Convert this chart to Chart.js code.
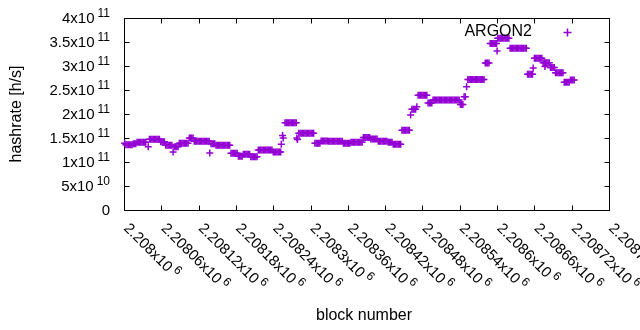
<!DOCTYPE html>
<html><head><meta charset="utf-8">
<script src="https://cdn.jsdelivr.net/npm/chart.js@4.4.1/dist/chart.umd.min.js"></script>
<style>html,body{margin:0;padding:0;background:#fff}canvas{display:block}</style>
</head><body>
<canvas id="c" width="640" height="330"></canvas>
<script>
const BLOCK_BASE = 2208000;
const blockOffsets = [
  1,
  3,5,7,9,11,13, 15,17,19,
  21,23,25,27,29,31,33,35,
  39,
  41,43,45,47,49,51,53,55,57,
  59,61,63,65,
  67,69,71,73,75,77,
  79,
  81,83,85,87,
  89,91,93,95,97,99,101,103,
  105,107,109,111,
  113,115,117,119,121,123,125,127,129,131,133,135,137,
  138,
  140,142,144,146,
  148,150,152,154,156,158,160,162,164,166,168,170,
  172,174,176,178,180,182,
  184,186,188,190,
  192,194,196,198,200,202,
  204,206,208,210,212,214,
  216,218,220,222,224,226,228,230,232,234,236,238,
  240,242,244,246,248,250,252,
  253,255,256,
  259,261,263,265,267,269,271,273,275,277,
  278,279,
  281,283,285,287,289,291,293,295,297,299,301,303,305,
  307,309,311,313,315,
  317,319,321,323,325,327,
  329,331,333,335,337,339,341,343,345,347,349,351,
  353,355,357,359,361,363,
  365,367,369,371,373,375,377,379,381,383,
  385,387,389,391,393,395,
  397,399,401,403,405,407,
  409,411,413,415,417,419,421,423,
  425,427,429,431,
  433,435,437,439,441,443,445,
  447,449,451,453,455,457,459,
  461,
  463,465,467,469,
  471,
  473,475,477,479,481,483,485,487,
  489,491,493,495,
  497,499,501,503,505,507,509,511,513,515,517,519,521,523,525,527,529,531,533,535,537,539,
  541,543,545,
  547,549,
  551,
  553,555,557,559,561,563,565,567,569,571,573,575,577,579,
  581,583,585,587,
  589,591,593,595,597,599,
  600,
  601,603,605,607,609,611,613,615,617,619,
  621,623,625,627,629,631,633,635,637,639,641,643,645,647,
  649,651,653,655,657,
  658,
  660,662,664,666,668,670,672,
  674,676,678,680,682,684,
  677,
  686,688,690,692,
  694,696,698,700,702,704,706,
  708,710,712,714,716,
  718,720,722,724
];
const hashrate = [
  1.39e11,
  1.36e11,1.36e11,1.36e11,1.36e11,1.36e11,1.36e11, 1.38e11,1.38e11,1.38e11,
  1.41e11,1.41e11,1.41e11,1.41e11,1.41e11,1.41e11,1.41e11,1.41e11,
  1.32e11,
  1.475e11,1.475e11,1.475e11,1.475e11,1.475e11,1.475e11,1.475e11,1.475e11,1.475e11,
  1.42e11,1.42e11,1.42e11,1.42e11,
  1.35e11,1.35e11,1.35e11,1.35e11,1.35e11,1.35e11,
  1.21e11,
  1.32e11,1.32e11,1.32e11,1.32e11,
  1.39e11,1.39e11,1.39e11,1.39e11,1.39e11,1.39e11,1.39e11,1.39e11,
  1.50e11,1.50e11,1.50e11,1.50e11,
  1.43e11,1.43e11,1.43e11,1.43e11,1.43e11,1.43e11,1.43e11,1.43e11,1.43e11,1.43e11,1.43e11,1.43e11,1.43e11,
  1.19e11,
  1.38e11,1.38e11,1.38e11,1.38e11,
  1.35e11,1.35e11,1.35e11,1.35e11,1.35e11,1.35e11,1.35e11,1.35e11,1.35e11,1.35e11,1.35e11,1.35e11,
  1.18e11,1.18e11,1.18e11,1.18e11,1.18e11,1.18e11,
  1.12e11,1.12e11,1.12e11,1.12e11,
  1.16e11,1.16e11,1.16e11,1.16e11,1.16e11,1.16e11,
  1.11e11,1.11e11,1.11e11,1.11e11,1.11e11,1.11e11,
  1.25e11,1.25e11,1.25e11,1.25e11,1.25e11,1.25e11,1.25e11,1.25e11,1.25e11,1.25e11,1.25e11,1.25e11,
  1.21e11,1.21e11,1.21e11,1.21e11,1.21e11,1.21e11,1.21e11,
  1.37e11,1.55e11,1.50e11,
  1.82e11,1.82e11,1.82e11,1.82e11,1.82e11,1.82e11,1.82e11,1.82e11,1.82e11,1.82e11,
  1.50e11,1.47e11,
  1.60e11,1.60e11,1.60e11,1.60e11,1.60e11,1.60e11,1.60e11,1.60e11,1.60e11,1.60e11,1.60e11,1.60e11,1.60e11,
  1.39e11,1.39e11,1.39e11,1.39e11,1.39e11,
  1.44e11,1.44e11,1.44e11,1.44e11,1.44e11,1.44e11,
  1.43e11,1.43e11,1.43e11,1.43e11,1.43e11,1.43e11,1.43e11,1.43e11,1.43e11,1.43e11,1.43e11,1.43e11,
  1.39e11,1.39e11,1.39e11,1.39e11,1.39e11,1.39e11,
  1.41e11,1.41e11,1.41e11,1.41e11,1.41e11,1.41e11,1.41e11,1.41e11,1.41e11,1.41e11,
  1.51e11,1.51e11,1.51e11,1.51e11,1.51e11,1.51e11,
  1.48e11,1.48e11,1.48e11,1.48e11,1.48e11,1.48e11,
  1.43e11,1.43e11,1.43e11,1.43e11,1.43e11,1.43e11,1.43e11,1.43e11,
  1.41e11,1.41e11,1.41e11,1.41e11,
  1.37e11,1.37e11,1.37e11,1.37e11,1.37e11,1.37e11,1.37e11,
  1.66e11,1.66e11,1.66e11,1.66e11,1.66e11,1.66e11,1.66e11,
  1.98e11,
  2.10e11,2.10e11,2.10e11,2.10e11,
  2.15e11,
  2.39e11,2.39e11,2.39e11,2.39e11,2.39e11,2.39e11,2.39e11,2.39e11,
  2.23e11,2.23e11,2.23e11,2.23e11,
  2.29e11,2.29e11,2.29e11,2.29e11,2.29e11,2.29e11,2.29e11,2.29e11,2.29e11,2.29e11,2.29e11,2.29e11,2.29e11,2.29e11,2.29e11,2.29e11,2.29e11,2.29e11,2.29e11,2.29e11,2.29e11,2.29e11,
  2.20e11,2.20e11,2.20e11,
  2.36e11,2.36e11,
  2.57e11,
  2.72e11,2.72e11,2.72e11,2.72e11,2.72e11,2.72e11,2.72e11,2.72e11,2.72e11,2.72e11,2.72e11,2.72e11,2.72e11,2.72e11,
  3.06e11,3.06e11,3.06e11,3.06e11,
  3.47e11,3.47e11,3.47e11,3.47e11,3.47e11,3.47e11,
  3.31e11,
  3.58e11,3.58e11,3.58e11,3.58e11,3.58e11,3.58e11,3.58e11,3.58e11,3.58e11,3.58e11,
  3.37e11,3.37e11,3.37e11,3.37e11,3.37e11,3.37e11,3.37e11,3.37e11,3.37e11,3.37e11,3.37e11,3.37e11,3.37e11,3.37e11,
  2.83e11,2.83e11,2.83e11,2.83e11,2.83e11,
  2.96e11,
  3.16e11,3.16e11,3.16e11,3.16e11,3.16e11,3.16e11,3.16e11,
  3.07e11,3.07e11,3.07e11,3.07e11,3.07e11,3.07e11,
  2.99e11,
  2.97e11,2.97e11,2.97e11,2.97e11,
  2.86e11,2.86e11,2.86e11,2.86e11,2.86e11,2.86e11,2.86e11,
  2.66e11,2.66e11,2.66e11,2.66e11,2.66e11,
  2.71e11,2.71e11,2.71e11,2.71e11
];
const xTickValues = [2208000,2208060,2208120,2208180,2208240,2208300,2208360,2208420,2208480,2208540,2208600,2208660,2208720,2208780];
const xTickMantissa = ['2.208x10','2.20806x10','2.20812x10','2.20818x10','2.20824x10','2.2083x10','2.20836x10','2.20842x10','2.20848x10','2.20854x10','2.2086x10','2.20866x10','2.20872x10','2.20878x10'];
const xTickExponent = ['6','6','6','6','6','6','6','6','6','6','6','6','6','6'];
const yTickValues = [0,5e10,1e11,1.5e11,2e11,2.5e11,3e11,3.5e11,4e11];
const yTickMantissa = ['0','5x10','1x10','1.5x10','2x10','2.5x10','3x10','3.5x10','4x10'];
const yTickExponent = ['','10','11','11','11','11','11','11','11'];
const seriesLabel = 'ARGON2';
const xTitle = 'block number';
const yTitle = 'hashrate [h/s]';

const FONT = '"Liberation Sans", Arial, sans-serif';
const COLOR = '#9400d3';
const TICK_FONT = 15, EXP_FONT = 12, TITLE_FONT = 16;

const points = blockOffsets.map((o, i) => ({x: BLOCK_BASE + o, y: hashrate[i]}));

const gnuplotDecor = {
  id: 'gnuplotDecor',
  beforeDatasetsDraw(chart) {
    const {ctx, chartArea: a, scales: {x, y}} = chart;
    ctx.save();
    ctx.strokeStyle = '#000';
    ctx.lineWidth = 1;
    ctx.beginPath();
    const L = Math.round(a.left) + 0.5, R = Math.round(a.right) + 0.5;
    const T = Math.round(a.top) + 0.5, B = Math.round(a.bottom) + 0.5;
    ctx.rect(L, T, R - L, B - T);
    const TL = 5;
    yTickValues.forEach(v => {
      const py = Math.round(y.getPixelForValue(v)) + 0.5;
      ctx.moveTo(L, py); ctx.lineTo(L + TL, py);
      ctx.moveTo(R, py); ctx.lineTo(R - TL, py);
    });
    xTickValues.forEach(v => {
      const px = Math.round(x.getPixelForValue(v)) + 0.5;
      ctx.moveTo(px, B); ctx.lineTo(px, B - TL);
      ctx.moveTo(px, T); ctx.lineTo(px, T + TL);
    });
    ctx.stroke();
    ctx.restore();
  },
  afterDraw(chart) {
    const {ctx, chartArea: a, scales: {x, y}} = chart;
    ctx.save();
    ctx.fillStyle = '#000';
    // y tick labels
    yTickValues.forEach((v, i) => {
      const py = y.getPixelForValue(v);
      const right = 110;
      ctx.textAlign = 'right';
      ctx.textBaseline = 'middle';
      let ew = 0;
      if (yTickExponent[i]) {
        ctx.font = EXP_FONT + 'px ' + FONT;
        ew = ctx.measureText(yTickExponent[i]).width + 3;
        ctx.fillText(yTickExponent[i], right, py - 4);
      }
      ctx.font = TICK_FONT + 'px ' + FONT;
      ctx.fillText(yTickMantissa[i], right - ew, py + 1);
    });
    // x tick labels
    xTickValues.forEach((v, i) => {
      const px = x.getPixelForValue(v);
      ctx.save();
      ctx.translate(px + 2, 226);
      ctx.rotate(Math.PI / 4);
      ctx.textAlign = 'left';
      ctx.textBaseline = 'middle';
      ctx.font = TICK_FONT + 'px ' + FONT;
      ctx.fillText(xTickMantissa[i], 0, 0);
      const w = ctx.measureText(xTickMantissa[i]).width;
      ctx.font = EXP_FONT + 'px ' + FONT;
      ctx.fillText(xTickExponent[i], w + 3, -5);
      ctx.restore();
    });
    // titles
    ctx.font = TITLE_FONT + 'px ' + FONT;
    ctx.textAlign = 'center';
    ctx.textBaseline = 'middle';
    ctx.fillText(xTitle, 364, 316);
    ctx.save();
    ctx.translate(17, 114);
    ctx.rotate(-Math.PI / 2);
    ctx.fillText(yTitle, 0, 0);
    ctx.restore();
    // legend
    ctx.textAlign = 'right';
    ctx.fillText(seriesLabel, 532, 32);
    ctx.strokeStyle = COLOR;
    ctx.lineWidth = 1.5;
    ctx.beginPath();
    ctx.moveTo(563.5, 32.5); ctx.lineTo(571.5, 32.5);
    ctx.moveTo(567.5, 28.5); ctx.lineTo(567.5, 36.5);
    ctx.stroke();
    ctx.restore();
  }
};

new Chart(document.getElementById('c'), {
  type: 'scatter',
  data: {
    datasets: [{
      label: seriesLabel,
      data: points,
      showLine: false,
      pointStyle: 'cross',
      pointRadius: 3.5,
      pointHoverRadius: 3.5,
      borderColor: COLOR,
      backgroundColor: COLOR,
      borderWidth: 1.5,
      clip: false
    }]
  },
  options: {
    responsive: false,
    animation: false,
    devicePixelRatio: 1,
    layout: {padding: {left: 124, top: 18, right: 31, bottom: 120}},
    plugins: {legend: {display: false}, tooltip: {enabled: false}},
    scales: {
      x: {type: 'linear', min: 2208000, max: 2208780, display: false},
      y: {type: 'linear', min: 0, max: 4e11, display: false}
    }
  },
  plugins: [gnuplotDecor]
});
</script>
</body></html>
